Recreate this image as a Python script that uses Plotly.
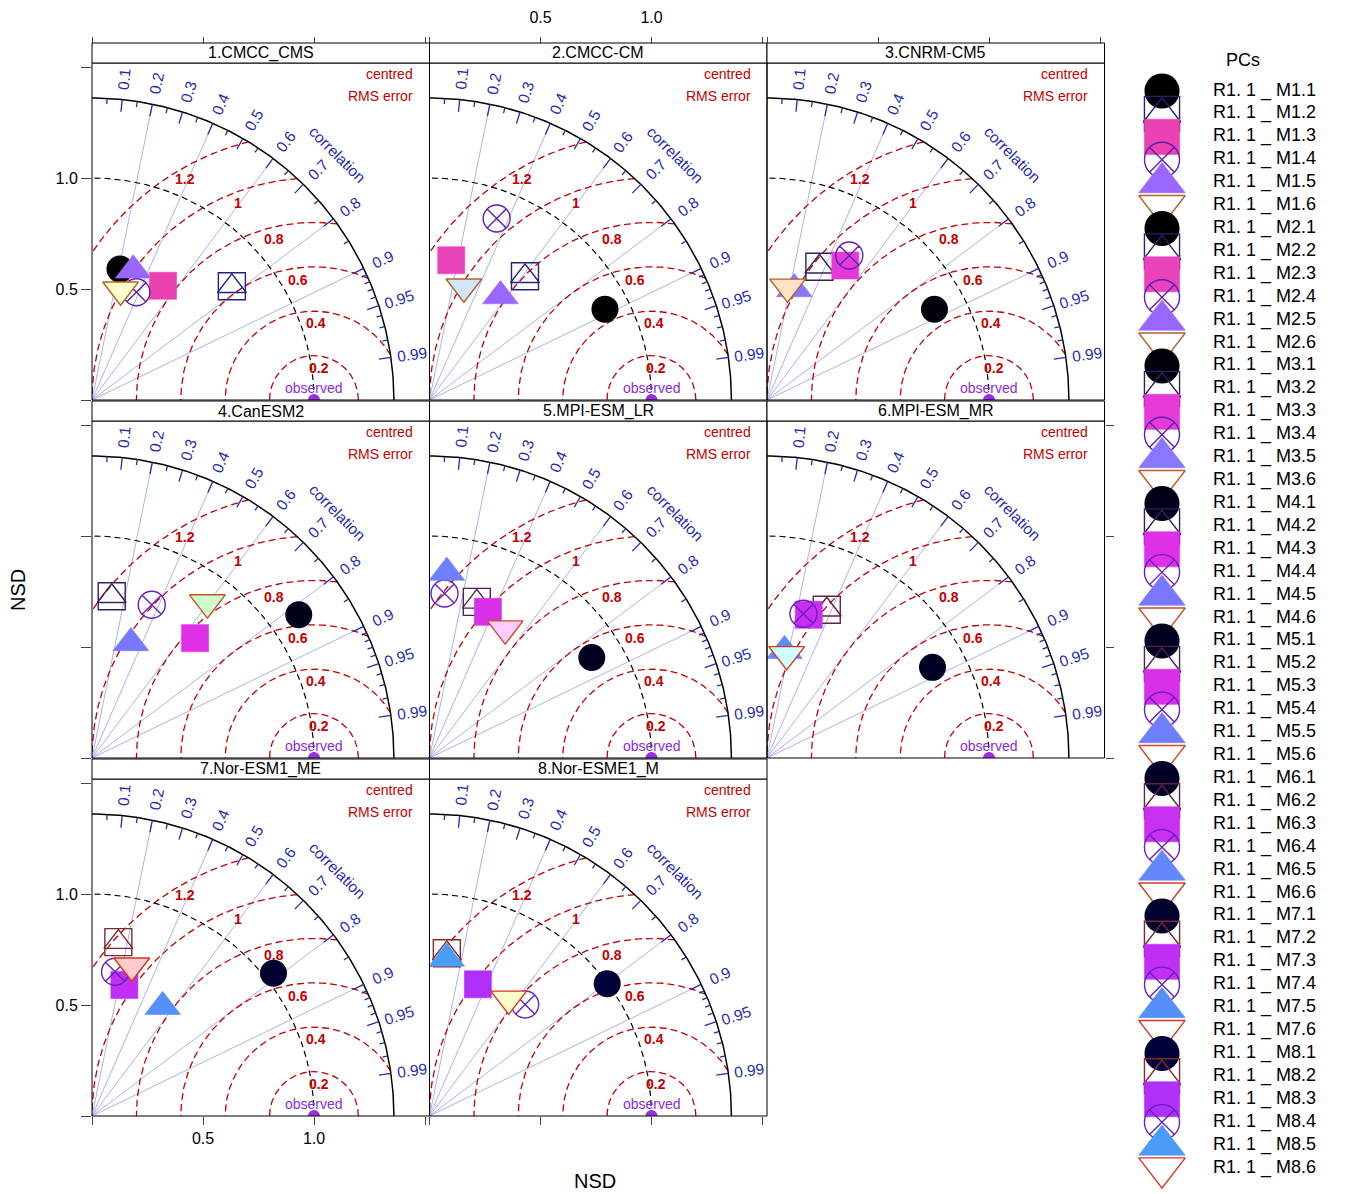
import numpy as np
import plotly.graph_objects as go

# ---------------- data ----------------
panel_titles = ["1.CMCC_CMS", "2.CMCC-CM", "3.CNRM-CM5", "4.CanESM2",
                "5.MPI-ESM_LR", "6.MPI-ESM_MR", "7.Nor-ESM1_ME", "8.Nor-ESME1_M"]

# normalised standard deviation (NSD) and correlation, PCs 1..6 of each model
nsd_1 = [0.603, 0.812, 0.606, 0.525, 0.613, 0.513]
cor_1 = [0.209, 0.776, 0.528, 0.381, 0.303, 0.251]
nsd_2 = [0.890, 0.704, 0.637, 0.872, 0.567, 0.533]
cor_2 = [0.888, 0.611, 0.154, 0.347, 0.564, 0.291]
nsd_3 = [0.858, 0.645, 0.701, 0.749, 0.515, 0.518]
cor_3 = [0.879, 0.366, 0.503, 0.495, 0.239, 0.179]
nsd_4 = [1.133, 0.734, 0.712, 0.741, 0.547, 0.872]
cor_4 = [0.822, 0.121, 0.652, 0.363, 0.320, 0.596]
nsd_5 = [0.860, 0.735, 0.709, 0.744, 0.839, 0.675]
cor_5 = [0.850, 0.290, 0.371, 0.091, 0.093, 0.505]
nsd_6 = [0.850, 0.720, 0.672, 0.670, 0.489, 0.475]
cor_6 = [0.877, 0.374, 0.280, 0.245, 0.161, 0.187]
nsd_7 = [1.040, 0.792, 0.608, 0.658, 0.586, 0.700]
cor_7 = [0.786, 0.150, 0.240, 0.158, 0.543, 0.256]
nsd_8 = [0.998, 0.737, 0.632, 0.662, 0.714, 0.637]
cor_8 = [0.802, 0.106, 0.345, 0.651, 0.109, 0.560]

nsd_all = [nsd_1, nsd_2, nsd_3, nsd_4, nsd_5, nsd_6, nsd_7, nsd_8]
cor_all = [cor_1, cor_2, cor_3, cor_4, cor_5, cor_6, cor_7, cor_8]

rms_levels = [0.2, 0.4, 0.6, 0.8, 1.0, 1.2]
rms_text = ["0.2", "0.4", "0.6", "0.8", "1", "1.2"]
rms_label_angle = [84, 88.5, 97, 103, 110, 119]
cor_major = [0.1, 0.2, 0.3, 0.4, 0.5, 0.6, 0.7, 0.8, 0.9, 0.95, 0.99]
cor_major_text = ["0.1", "0.2", "0.3", "0.4", "0.5", "0.6", "0.7", "0.8", "0.9", "0.95", "0.99"]
cor_minor = [0.05, 0.15, 0.25, 0.35, 0.45, 0.55, 0.65, 0.75, 0.85,
             0.91, 0.92, 0.93, 0.94, 0.96, 0.97, 0.98]
cor_lines = [0.2, 0.4, 0.6, 0.8, 0.9]
axis_tickvals = [0, 0.5, 1.0, 1.5]
axis_ticktext = ["", "0.5", "1.0", ""]
sd_max = 1.36

# ---------------- styles ----------------
col_circle = ["#000000", "#000000", "#02020a", "#000018", "#00001e", "#000026", "#00002e", "#000038"]
col_sqtri = ["#22227a", "#25257a", "#2c2262", "#3c1e5c", "#541e52", "#662244", "#7a2832", "#8a2a26"]
col_square = ["#ea42b0", "#e843b8", "#e63ad6", "#e030e6", "#d82fe8", "#c82ff0", "#bf30f4", "#b030f8"]
col_cx = ["#5b20b0", "#5e20b2", "#6020b8", "#6a1fc0", "#6a1fc0", "#6a1fc0", "#6a1fc0", "#6a1fc0"]
col_tri = ["#9966ff", "#9966ff", "#8877ff", "#7777ff", "#6f80ff", "#6288fa", "#5590f8", "#4a9cf8"]
col_tdl = ["#b5652a", "#b8602a", "#c0582a", "#c85028", "#d04a2a", "#d03c20", "#d83420", "#e03020"]
col_tdf = ["#ffffcc", "#cfe6fa", "#ffe2c4", "#ccffcc", "#ffccff", "#ccffff", "#ffcccc", "#ffffcc"]

FONT = "Liberation Sans, Arial, sans-serif"
RED = "#c40000"
BLUE = "#1f2db0"
W, H = 1367, 1194
col_left = [92, 429.5, 767]
row_top = [63, 421, 779]
PW, PH, STRIP = 337.5, 337, 20
SCALE = 222.0


def marker_arrays(m, xs, ys, big=False):
    """Return per-point marker arrays (order preserved) for model m."""
    f = 1.3 if big else 1.0
    X, Y, sym, size, col, lcol, lw = [], [], [], [], [], [], []

    def add(x, y, s, sz, c, lc, w):
        X.append(x); Y.append(y); sym.append(s); size.append(sz * f)
        col.append(c); lcol.append(lc); lw.append(w)

    tdf = "white" if big else col_tdf[m]
    add(xs[0], ys[0], "circle", 27, col_circle[m], col_circle[m], 0)
    add(xs[1], ys[1], "square-open", 27, col_sqtri[m], col_sqtri[m], 1.4)
    add(xs[1], ys[1], "triangle-up-open", 25, col_sqtri[m], col_sqtri[m], 1.4)
    add(xs[2], ys[2], "square", 27, col_square[m], col_square[m], 0.6)
    add(xs[3], ys[3], "circle-x-open", 27, col_cx[m], col_cx[m], 1.4)
    add(xs[4], ys[4], "triangle-up", 31, col_tri[m], col_tri[m], 0.6)
    add(xs[5], ys[5], "triangle-down", 31, tdf, col_tdl[m], 1.4)
    return X, Y, sym, size, col, lcol, lw


fig = go.Figure()
layout = dict(width=W, height=H, margin=dict(l=0, r=0, t=0, b=0),
              paper_bgcolor="white", plot_bgcolor="rgba(0,0,0,0)",
              showlegend=False, font=dict(family=FONT, color="black", size=16))
shapes, annotations = [], []

t90 = np.linspace(0, np.pi / 2, 240)

for p in range(8):
    n = p + 1
    row, col = divmod(p, 3)
    xl, yt = col_left[col], row_top[row]
    xr_, yb = xl + PW, yt + PH
    xname = "x" if n == 1 else f"x{n}"
    yname = "y" if n == 1 else f"y{n}"
    xkey = "xaxis" if n == 1 else f"xaxis{n}"
    ykey = "yaxis" if n == 1 else f"yaxis{n}"

    xa = dict(domain=[xl / W, xr_ / W], range=[0, PW / SCALE], showgrid=False,
              zeroline=False, showline=False, ticks="", showticklabels=False,
              anchor=yname, fixedrange=True, tickfont=dict(size=16))
    ya = dict(domain=[1 - yb / H, 1 - yt / H], range=[0, PH / SCALE], showgrid=False,
              zeroline=False, showline=False, ticks="", showticklabels=False,
              anchor=xname, fixedrange=True, tickfont=dict(size=16))
    if row == 0:
        xa.update(anchor="free", position=1 - (yt - STRIP) / H, side="top",
                  ticks="outside", ticklen=6, tickvals=axis_tickvals,
                  ticktext=axis_ticktext, showticklabels=(col == 1), ticklabelstandoff=8)
    if row == 2:
        xa.update(side="bottom", ticks="outside", ticklen=8, tickvals=axis_tickvals,
                  ticktext=axis_ticktext, showticklabels=(col == 0))
    if col == 0:
        ya.update(side="left", ticks="outside", ticklen=10, tickvals=axis_tickvals,
                  ticktext=axis_ticktext, showticklabels=(row != 1))
    if n == 6:
        ya.update(side="right", ticks="outside", ticklen=8, tickvals=axis_tickvals,
                  ticktext=axis_ticktext, showticklabels=False)
    layout[xkey] = xa
    layout[ykey] = ya

    # frame and strip
    shapes.append(dict(type="rect", xref=f"{xname} domain", yref=f"{yname} domain",
                       x0=0, x1=1, y0=0, y1=1, line=dict(color="black", width=1), layer="above"))
    shapes.append(dict(type="rect", xref=f"{xname} domain", yref="paper",
                       x0=0, x1=1, y0=1 - yt / H, y1=1 - (yt - STRIP) / H,
                       line=dict(color="black", width=1), fillcolor="white"))
    annotations.append(dict(xref=f"{xname} domain", yref="paper", x=0.5,
                            y=1 - (yt - STRIP / 2) / H, text=panel_titles[p], showarrow=False,
                            font=dict(size=16, color="black"), xanchor="center", yanchor="middle"))

    # radial correlation lines
    lx, ly = [], []
    for c in cor_lines:
        a = np.arccos(c)
        lx += [0, sd_max * np.cos(a), None]
        ly += [0, sd_max * np.sin(a), None]
    fig.add_trace(go.Scatter(x=lx, y=ly, mode="lines", xaxis=xname, yaxis=yname,
                             line=dict(color="#a9b2f2", width=1), hoverinfo="skip"))

    # centred RMS circles
    cx_, cy_ = [], []
    for r in rms_levels:
        cmin = (sd_max ** 2 - 1 - r ** 2) / (2 * r)
        t0 = 0.0 if cmin >= 1 else np.arccos(cmin)
        t1 = np.pi if r <= 1 else np.arccos(-1 / r)
        tt = np.linspace(t0, t1, 200)
        cx_ += list(1 + r * np.cos(tt)) + [None]
        cy_ += list(r * np.sin(tt)) + [None]
    fig.add_trace(go.Scatter(x=cx_, y=cy_, mode="lines", xaxis=xname, yaxis=yname,
                             line=dict(color=RED, width=1.3, dash="7px,4px"), hoverinfo="skip"))

    # reference arc NSD = 1
    fig.add_trace(go.Scatter(x=np.cos(t90), y=np.sin(t90), mode="lines", xaxis=xname,
                             yaxis=yname, line=dict(color="black", width=1.2, dash="6px,4px"),
                             hoverinfo="skip"))
    # outer arc
    fig.add_trace(go.Scatter(x=sd_max * np.cos(t90), y=sd_max * np.sin(t90), mode="lines",
                             xaxis=xname, yaxis=yname, line=dict(color="black", width=1.5),
                             hoverinfo="skip"))
    # correlation ticks
    tx, ty = [], []
    for c in cor_major + cor_minor:
        a = np.arccos(c)
        ln = 0.055 if c in cor_major else 0.025
        tx += [sd_max * np.cos(a), (sd_max - ln) * np.cos(a), None]
        ty += [sd_max * np.sin(a), (sd_max - ln) * np.sin(a), None]
    fig.add_trace(go.Scatter(x=tx, y=ty, mode="lines", xaxis=xname, yaxis=yname,
                             line=dict(color=BLUE, width=1.3), hoverinfo="skip"))

    # observed point
    fig.add_trace(go.Scatter(x=[1.0], y=[0.0], mode="markers", xaxis=xname, yaxis=yname,
                             marker=dict(color="#9a2ee6", size=12, opacity=1), hoverinfo="skip"))

    # model PCs
    nsd, cor = np.array(nsd_all[p]), np.array(cor_all[p])
    xs = nsd * cor
    ys = nsd * np.sqrt(1 - cor ** 2)
    X, Y, sym, size, colr, lcol, lw = marker_arrays(p, xs, ys)
    fig.add_trace(go.Scatter(x=X, y=Y, mode="markers", xaxis=xname, yaxis=yname,
                             marker=dict(symbol=sym, size=size, color=colr, opacity=1,
                                         line=dict(color=lcol, width=lw)),
                             hoverinfo="skip"))

    # text annotations inside the panel
    for c, txt in zip(cor_major, cor_major_text):
        a = np.arccos(c)
        annotations.append(dict(xref=xname, yref=yname, x=1.455 * np.cos(a), y=1.455 * np.sin(a),
                                text=txt, showarrow=False, textangle=-np.degrees(a),
                                font=dict(size=15.5, color=BLUE), xanchor="center", yanchor="middle"))
    annotations.append(dict(xref=xname, yref=yname, x=1.105, y=1.105, text="correlation",
                            showarrow=False, textangle=45, font=dict(size=15.5, color=BLUE),
                            xanchor="center", yanchor="middle"))
    for r, txt, ang in zip(rms_levels, rms_text, rms_label_angle):
        a = np.radians(ang)
        annotations.append(dict(xref=xname, yref=yname, x=1 + r * np.cos(a), y=r * np.sin(a),
                                yshift=-12, text=f"<b>{txt}</b>", showarrow=False,
                                font=dict(size=14, color=RED), xanchor="center", yanchor="middle"))
    annotations.append(dict(xref=xname, yref=yname, x=1.455, y=1.468, text="centred",
                            showarrow=False, font=dict(size=14, color=RED),
                            xanchor="right", yanchor="middle"))
    annotations.append(dict(xref=xname, yref=yname, x=1.455, y=1.369, text="RMS error",
                            showarrow=False, font=dict(size=14, color=RED),
                            xanchor="right", yanchor="middle"))
    annotations.append(dict(xref=xname, yref=yname, x=1.0, y=0.054, text="observed",
                            showarrow=False, font=dict(size=14, color="#8a2be2"),
                            xanchor="center", yanchor="middle"))

# ---------------- legend as its own axis ----------------
LX0, LX1, LY0, LY1 = 1135, 1367, 60, 1194
row_px, first_px = 22.915, 91
layout["xaxis9"] = dict(domain=[LX0 / W, LX1 / W], range=[0, LX1 - LX0], visible=False,
                        anchor="y9", fixedrange=True)
span = (LY1 - LY0) / row_px
vmin = -(first_px - LY0) / row_px
layout["yaxis9"] = dict(domain=[0, 1 - LY0 / H], range=[vmin + span, vmin], visible=False,
                        anchor="x9", fixedrange=True)

legend_labels = []
LX_, LY_, LS, LSZ, LC, LLC, LLW = [], [], [], [], [], [], []
for m in range(8):
    idx = [m * 6 + k for k in range(6)]
    legend_labels += [f"R1. 1 _ M{m + 1}.{k + 1}" for k in range(6)]
    X, Y, sym, size, colr, lcol, lw = marker_arrays(m, [27] * 6, idx, big=True)
    LX_ += X; LY_ += Y; LS += sym; LSZ += size; LC += colr; LLC += lcol; LLW += lw

fig.add_trace(go.Scatter(x=LX_, y=LY_, mode="markers", xaxis="x9", yaxis="y9",
                         marker=dict(symbol=LS, size=LSZ, color=LC, opacity=1,
                                     line=dict(color=LLC, width=LLW)),
                         cliponaxis=False, hoverinfo="skip"))
fig.add_trace(go.Scatter(x=[78] * len(legend_labels), y=list(range(len(legend_labels))),
                         mode="text", text=legend_labels, textposition="middle right",
                         textfont=dict(size=18, color="black", family=FONT),
                         xaxis="x9", yaxis="y9", cliponaxis=False, hoverinfo="skip"))

annotations.append(dict(xref="paper", yref="paper", x=1243 / W, y=1 - 60 / H, text="PCs",
                        showarrow=False, font=dict(size=18), xanchor="center", yanchor="middle"))
annotations.append(dict(xref="paper", yref="paper", x=595 / W, y=1 - 1181 / H, text="NSD",
                        showarrow=False, font=dict(size=20), xanchor="center", yanchor="middle"))
annotations.append(dict(xref="paper", yref="paper", x=18 / W, y=1 - 590 / H, text="NSD",
                        showarrow=False, textangle=-90, font=dict(size=20),
                        xanchor="center", yanchor="middle"))

layout["shapes"] = shapes
layout["annotations"] = annotations
fig.update_layout(**layout)
fig.write_html("out.html")
